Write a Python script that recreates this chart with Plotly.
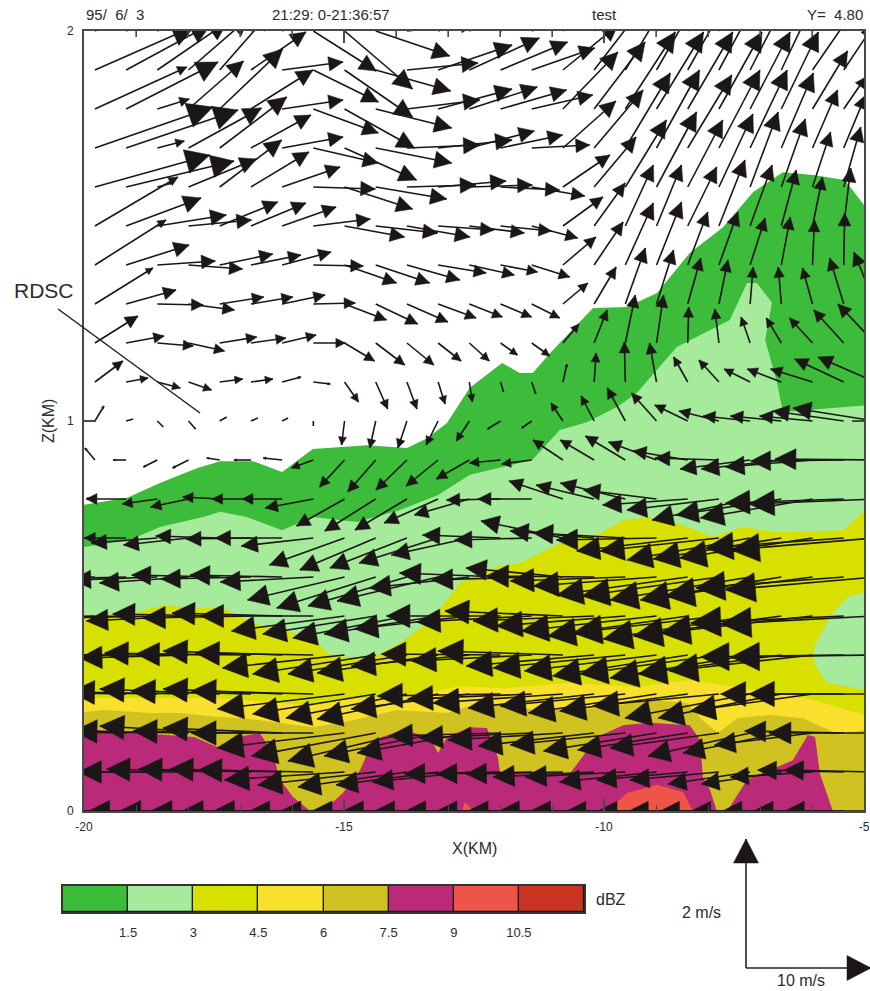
import math
import plotly.graph_objects as go

# ---- canvas helpers ----
W, H = 870, 991
PX_L, PX_R, PX_T, PX_B = 84, 864, 31, 811     # plot frame
def fx(p): return p / W
def fy(p): return 1 - p / H

# ---- axis content ----
X_RANGE = [-20, -5]
Z_RANGE = [0, 2]
X_TICKS = [-20, -15, -10, -5]
X_TICK_TEXT = ["-20", "-15", "-10", "-5"]
X_TOP_MINOR = [-19, -18, -17, -16, -14, -13, -12, -11, -9, -8, -7, -6]
X_TOP_MAJOR = [-15, -10]
Z_TICKS = [0, 1, 2]
DBZ_EDGES = [0, 1.5, 3, 4.5, 6, 7.5, 9, 10.5, 12]
DBZ_LABELS = ["1.5", "3", "4.5", "6", "7.5", "9", "10.5"]
DBZ_COLORS = ["#3dbb3a", "#a6ea9c", "#d8e000", "#f8e02c", "#d0c220", "#bb2a78", "#ee5548", "#c93420"]

# ---- reflectivity bands: upper edge of each band (X km, Z km) ----
B0_X = [-20, -19.17, -18.54, -17.83, -17.38, -16.75, -16.19, -15.6, -14.56, -13.79, -13.4, -13.02, -12.58, -11.96, -11.62, -11.37, -11.04, -10.21, -9.56, -8.98, -8.35, -7.71, -7.13, -6.56, -5.98, -5.37, -5]
B0_Z = [0.785, 0.803, 0.841, 0.879, 0.897, 0.897, 0.869, 0.928, 0.938, 0.931, 0.956, 0.995, 1.085, 1.149, 1.123, 1.123, 1.174, 1.29, 1.292, 1.328, 1.431, 1.497, 1.587, 1.638, 1.631, 1.618, 1.554]
B1_X = [-20, -19.12, -18.54, -17.71, -17.38, -16.87, -16.19, -15.6, -14.75, -13.92, -13.19, -12.58, -11.38, -10.85, -10.33, -9.75, -9.37, -8.6, -7.58, -7.25, -7.06, -6.77, -6.9, -6.67, -6.56, -5.85, -5]
B1_Z = [0.677, 0.695, 0.728, 0.754, 0.767, 0.754, 0.72, 0.754, 0.741, 0.772, 0.81, 0.862, 0.9, 0.977, 0.997, 1.036, 1.072, 1.19, 1.259, 1.354, 1.354, 1.303, 1.208, 1.097, 1.023, 1.03, 1.04]
B2_X = [-20, -19.17, -18.71, -18.46, -17.94, -17.31, -16.75, -16.23, -15.6, -15.33, -15.02, -14.44, -13.92, -13.4, -13.02, -12.77, -12.06, -11.62, -11.1, -10.6, -10.13, -9.63, -9.12, -8.6, -7.9, -7.33, -6.67, -5.4, -5]
B2_Z = [0.503, 0.503, 0.52, 0.528, 0.52, 0.52, 0.482, 0.464, 0.446, 0.405, 0.395, 0.395, 0.431, 0.482, 0.541, 0.585, 0.626, 0.636, 0.669, 0.703, 0.708, 0.746, 0.754, 0.738, 0.703, 0.728, 0.715, 0.72, 0.767]
HOLE_X = [-5, -5.3, -5.65, -5.96, -5.96, -5.73, -5]
HOLE_Z = [0.56, 0.55, 0.50, 0.42, 0.38, 0.33, 0.31]
B3_X = [-20, -19.31, -18.15, -17.5, -16.54, -15.6, -14.75, -13.9, -12.77, -11.94, -10.65, -9.37, -8.35, -7.44, -6.17, -5.52, -5]
B3_Z = [0.29, 0.29, 0.29, 0.29, 0.28, 0.27, 0.29, 0.29, 0.32, 0.315, 0.328, 0.318, 0.336, 0.318, 0.292, 0.267, 0.246]
B4_X = [-20, -19.62, -18.71, -18.13, -17.44, -16.92, -15.6, -14.83, -13.98, -13.02, -12.38, -11.29, -10.46, -9.69, -9.12, -8.4, -8.1, -7.81, -7.44, -6.81, -6.17, -5.79, -5.46, -5]
B4_Z = [0.254, 0.259, 0.251, 0.251, 0.241, 0.238, 0.215, 0.233, 0.259, 0.251, 0.277, 0.259, 0.259, 0.272, 0.285, 0.277, 0.233, 0.2, 0.238, 0.246, 0.238, 0.215, 0.195, 0.208]
B5_X = [-20, -18.9, -17.88, -17.44, -17.06, -16.62, -16.37, -16.23, -15.98, -15.65, -15.4, -15.02, -14.69, -14.44, -13.87, -13.35, -13.19, -13.02, -12.58, -12.25, -12.04, -12.0, -10.65, -10.13, -9.63, -9.12, -8.35, -8.15, -8.1, -7.96, -7.83, -7.63, -7.25, -6.37, -6.08, -5.94, -5.85, -5.6]
B5_Z = [0.21, 0.20, 0.19, 0.164, 0.19, 0.20, 0.149, 0.08, 0.036, 0.0, 0.0, 0.046, 0.105, 0.182, 0.208, 0.19, 0.149, 0.19, 0.215, 0.213, 0.138, 0.097, 0.097, 0.19, 0.22, 0.226, 0.22, 0.182, 0.087, 0.054, 0.0, 0.0, 0.08, 0.13, 0.195, 0.19, 0.097, 0.0]
B6_X = [-9.94, -9.56, -8.98, -8.48, -8.29]
B6_Z = [0.0, 0.046, 0.067, 0.049, 0.0]
B6B_X = [-12.73, -12.67, -12.52]
B6B_Z = [0.0, 0.023, 0.0]

# ---- wind field ----
X0, DX_KM, NCOL = -19.79, 0.6, 26
Z_ROWS = [2.0, 1.9, 1.8, 1.7, 1.6, 1.5, 1.4, 1.3, 1.2, 1.1, 1.0, 0.9, 0.8, 0.7, 0.6, 0.5, 0.4, 0.3, 0.2, 0.1, 0.0]
U_UNIT = 0.08     # m/s per count
W_UNIT = 0.0155   # m/s per count
U_READ = [
 [100,100,100,90,80,70,60,63,68,74,70,70,70,65,60,55,50,47,45,44,42,40,37,35,30,25],
 [100,85,70,60,50,55,61,65,68,75,71,74,70,67,63,55,50,47,45,44,42,40,37,40,30,25],
 [92,92,32,55,63,62,61,65,70,76,73,74,68,66,61,55,51,50,47,45,43,40,37,35,22,20],
 [118,112,27,73,67,60,61,65,72,76,73,74,65,62,58,53,49,45,43,44,41,37,32,25,22,15],
 [115,108,15,68,62,58,58,62,68,71,69,68,63,59,53,47,42,41,40,35,34,28,24,18,17,15],
 [83,75,69,63,58,55,54,57,60,62,63,56,55,51,46,40,31,28,25,29,26,22,15,10,7,10],
 [71,63,58,54,53,50,49,50,52,54,53,48,45,37,38,33,29,28,25,20,19,15,9,2,1,0],
 [58,50,46,46,44,42,43,42,42,42,41,38,33,31,28,25,22,20,17,13,9,3,-3,-10,-14,-21],
 [43,38,36,36,37,35,34,32,30,29,27,23,20,17,18,16,13,10,7,1,-4,-9,-15,-23,-30,-37],
 [28,22,23,23,23,22,19,17,14,12,10,7,3,3,4,4,2,-1,-7,-14,-20,-26,-34,-42,-49,-57],
 [9,7,6,7,7,7,6,0,-3,-6,-9,-12,-13,-13,-10,-12,-13,-18,-25,-33,-40,-47,-51,-53,-71,-82],
 [-10,-13,-14,-16,-13,-17,-19,-22,-25,-28,-31,-32,-33,-31,-30,-30,-34,-40,-48,-55,-64,-70,-80,-87,-93,-100],
 [-8,-40,-35,-38,-37,-39,-40,-48,-48,-51,-52,-54,-55,-54,-54,-54,-58,-65,-73,-85,-92,-98,-105,-112,-118,-126],
 [-15,-42,-66,-65,-64,-65,-67,-72,-75,-76,-77,-79,-78,-78,-77,-82,-84,-92,-100,-111,-119,-123,-128,-133,-138,-144],
 [-85,-85,-85,-89,-88,-90,-92,-93,-97,-99,-99,-101,-100,-101,-100,-97,-108,-115,-123,-131,-137,-140,-141,-147,-148,-149],
 [-100,-100,-100,-102,-107,-108,-110,-113,-113,-113,-114,-114,-115,-114,-115,-118,-121,-129,-135,-140,-146,-147,-148,-152,-153,-154],
 [-105,-105,-105,-109,-115,-115,-119,-118,-122,-123,-119,-121,-118,-119,-120,-125,-128,-132,-132,-135,-139,-140,-143,-143,-143,-144],
 [-118,-118,-118,-118,-120,-120,-119,-122,-127,-123,-121,-121,-118,-123,-124,-130,-126,-125,-128,-128,-126,-125,-123,-122,-123,-126],
 [-115,-115,-115,-115,-120,-118,-119,-122,-127,-124,-119,-114,-112,-111,-112,-115,-116,-115,-113,-110,-109,-102,-98,-98,-99,-106],
 [-110,-110,-110,-110,-113,-112,-112,-115,-120,-118,-109,-102,-97,-96,-95,-97,-101,-100,-97,-91,-89,-82,-80,-82,-86,-91],
 [-100,-100,-100,-100,-100,-100,-100,-100,-95,-95,-95,-95,-95,-95,-95,-95,-95,-95,-90,-90,-90,-90,-90,-90,-90,-90],
]
W_READ = [
 [45,45,48,50,55,45,30,-40,-58,-25,8,25,30,30,25,45,65,78,78,78,78,78,78,60,45,45],
 [44,46,48,52,57,38,8,-32,-47,-21,7,25,32,28,22,45,65,78,78,78,78,78,78,58,45,45],
 [42,47,10,48,60,39,9,-24,-39,-19,9,20,22,19,14,57,67,77,77,77,77,77,77,58,32,40],
 [41,38,7,40,51,33,11,-15,-32,-15,3,8,17,13,3,47,58,75,78,73,78,78,75,58,53,50],
 [32,26,4,28,47,35,20,-2,-22,-12,2,6,2,-3,-9,32,50,67,75,67,73,75,68,55,60,50],
 [49,28,11,6,24,23,19,7,-11,-7,-11,-4,-7,-5,-12,29,43,61,61,59,66,61,56,49,58,45],
 [45,20,4,-4,11,10,13,-1,-18,-18,-15,-8,-10,-7,-12,28,43,62,63,53,53,47,48,45,52,45],
 [36,14,-1,-6,7,7,9,1,-16,-20,-18,-14,-13,-13,-14,21,37,56,54,46,44,37,37,36,46,52],
 [27,7,-3,-8,6,5,8,0,-18,-22,-22,-18,-18,-12,-13,19,33,48,48,36,34,26,25,25,33,39],
 [21,4,-6,-8,3,3,5,-2,-20,-27,-27,-22,-20,-10,-12,18,29,40,39,25,22,13,13,13,23,25],
 [15,2,-6,-8,4,3,3,-5,-24,-27,-27,-24,-20,-8,-7,18,25,33,28,16,10,5,5,5,10,13],
 [12,0,-7,-8,2,0,2,-8,-27,-32,-30,-26,-19,-3,-4,20,20,24,18,9,2,-9,-9,-7,-1,1],
 [1,0,-5,-8,2,0,0,-9,-27,-32,-31,-24,-16,-1,0,18,14,16,9,-6,-11,-21,-16,-19,-4,-5],
 [0,0,-5,-7,2,-1,0,-8,-27,-32,-30,-25,-17,3,-2,17,7,5,-2,-13,-13,-22,-21,-20,-10,-12],
 [-2,-2,-3,-6,2,-2,2,-5,-23,-31,-29,-24,-11,4,-3,9,1,-4,-9,-18,-19,-23,-23,-19,-11,-13],
 [-2,-2,-2,-5,2,-2,3,0,-15,-18,-22,-18,-13,0,-6,5,-5,-10,-15,-20,-17,-23,-20,-17,-7,-8],
 [0,0,0,-3,2,1,4,2,-13,-19,-19,-18,-11,1,-6,4,-11,-13,-16,-21,-19,-23,-19,-16,-2,-2],
 [2,2,2,2,5,3,5,3,-15,-20,-24,-25,-15,-2,-5,-9,-14,-12,-19,-17,-12,-24,-24,-17,0,0],
 [2,2,2,2,7,2,5,0,-15,-23,-28,-23,-20,-3,-5,-7,-13,-12,-18,-17,-15,-23,-20,-12,2,0],
 [0,0,0,0,3,3,3,2,-8,-13,-15,-13,-10,-2,-2,-2,-5,-5,-10,-8,-8,-12,-12,-5,2,2],
 [0,0,0,0,0,0,0,0,0,0,0,0,0,0,0,0,0,0,0,0,0,0,0,0,0,0],
]
SMALL_HEADS = [(2, 0), (5, 0), (6, 0), (7, 0)]

REF_U = 10   # m/s
REF_W = 2    # m/s

# ---- scales of the wind plot ----
KM_PER_PX_X = (X_RANGE[1] - X_RANGE[0]) / (PX_R - PX_L)
KM_PER_PX_Z = (Z_RANGE[1] - Z_RANGE[0]) / (PX_B - PX_T)
PX_PER_MS_X = 1 / U_UNIT
PX_PER_MS_Z = 1 / W_UNIT

def head_size(L, small=False):
    h = 0.17 * L + 4 if L >= 20 else 0.15 * L
    return h * 0.45 if small else h

def arrows(rows):
    lx, ly, hx, hy = [], [], [], []
    for r, z in enumerate(rows):
        for c in range(NCOL):
            x = X0 + DX_KM * c
            u = U_READ[r][c] * U_UNIT
            w = W_READ[r][c] * W_UNIT
            px, py = u * PX_PER_MS_X, w * PX_PER_MS_Z
            L = math.hypot(px, py)
            if L == 0:
                continue
            tx = x + px * KM_PER_PX_X
            tz = z + py * KM_PER_PX_Z
            lx += [x, tx, None]
            ly += [z, tz, None]
            h = head_size(L, (r, c) in SMALL_HEADS)
            if h < 1.5:
                continue
            ex, ey = px / L, py / L
            hw = 0.5 * h
            bx, by = -ex * h, -ey * h
            hx += [tx, tx + (bx - ey * hw) * KM_PER_PX_X, tx + (bx + ey * hw) * KM_PER_PX_X, tx, None]
            hy += [tz, tz + (by + ex * hw) * KM_PER_PX_Z, tz + (by - ex * hw) * KM_PER_PX_Z, tz, None]
    return lx, ly, hx, hy

fig = go.Figure()

def band(xs, zs, color):
    fig.add_trace(go.Scatter(x=xs, y=zs, mode="lines", fill="toself", fillcolor=color,
                             line=dict(width=0, color=color), hoverinfo="skip", showlegend=False))

band(B0_X + [-5, -20], B0_Z + [0, 0], DBZ_COLORS[0])
band(B1_X + [-5, -20], B1_Z + [0, 0], DBZ_COLORS[1])
band(B2_X + [-5, -20], B2_Z + [0, 0], DBZ_COLORS[2])
band(HOLE_X, HOLE_Z, DBZ_COLORS[1])
band(B3_X + [-5, -20], B3_Z + [0, 0], DBZ_COLORS[3])
band(B4_X + [-5, -20], B4_Z + [0, 0], DBZ_COLORS[4])
band(B5_X + [-20], B5_Z + [0], DBZ_COLORS[5])
band(B6_X, B6_Z, DBZ_COLORS[6])
band(B6B_X, B6B_Z, DBZ_COLORS[6])

INK = "#1b1716"
AXC = "#4a4a4a"
lx, ly, hx, hy = arrows(Z_ROWS)
fig.add_trace(go.Scatter(x=lx, y=ly, mode="lines", line=dict(color=INK, width=1.6),
                         hoverinfo="skip", showlegend=False))
fig.add_trace(go.Scatter(x=hx, y=hy, mode="lines", fill="toself", fillcolor=INK,
                         line=dict(color=INK, width=0.5), hoverinfo="skip", showlegend=False))

# top-edge ticks
tx, ty = [], []
for v in X_TOP_MINOR:
    tx += [v, v, None]; ty += [2, 2 - 6 * KM_PER_PX_Z, None]
for v in X_TOP_MAJOR:
    tx += [v, v, None]; ty += [2, 2 - 12 * KM_PER_PX_Z, None]
fig.add_trace(go.Scatter(x=tx, y=ty, mode="lines", line=dict(color=AXC, width=1.3), hoverinfo="skip", showlegend=False))

# dBZ colour bar
centers = [(a + b) / 2 for a, b in zip(DBZ_EDGES[:-1], DBZ_EDGES[1:])]
fig.add_trace(go.Bar(x=centers, y=[1] * len(centers), width=1.5, xaxis="x2", yaxis="y2",
                     marker=dict(color=DBZ_COLORS, line=dict(color="#1a1a1a", width=1.2)),
                     hoverinfo="skip", showlegend=False))

# scale arrows
fig.add_trace(go.Scatter(x=[0, REF_U, None, 0, 0], y=[0, 0, None, 0, REF_W], mode="lines", xaxis="x3", yaxis="y3",
                         line=dict(color="#222", width=1.6), hoverinfo="skip", showlegend=False))
hlen_x, hlen_z, hw_x, hw_z = 24 * U_UNIT, 24 * W_UNIT, 12.5 * U_UNIT, 12.5 * W_UNIT
fig.add_trace(go.Scatter(
    x=[REF_U, REF_U - hlen_x, REF_U - hlen_x, REF_U, None, 0, -hw_x, hw_x, 0],
    y=[0, hw_z, -hw_z, 0, None, REF_W, REF_W - hlen_z, REF_W - hlen_z, REF_W],
    mode="lines", fill="toself", fillcolor=INK, line=dict(color=INK, width=0.5), xaxis="x3", yaxis="y3",
    hoverinfo="skip", showlegend=False))

FONT = "Liberation Sans, Arial, sans-serif"
TXT = "#2b2b2b"

def note(x, y, text, size=13, xanchor="center", **kw):
    return dict(text=text, x=fx(x), y=fy(y), xref="paper", yref="paper", showarrow=False,
                xanchor=xanchor, yanchor="middle",
                font=dict(size=size, color=TXT, family=FONT), **kw)

annotations = [
    note(84, 15, "95/\u00a0\u00a06/\u00a0\u00a03", size=15, xanchor="left"),
    note(331, 15, "21:29: 0-21:36:57", size=15),
    note(604, 15, "test", size=15),
    note(865, 15, "Y=\u00a0\u00a04.80", size=15, xanchor="right"),
    note(48, 421, "Z(KM)", size=16, textangle=-90),
    note(474, 848, "X(KM)", size=16),
    note(12, 291, "RDSC", size=21, xanchor="left"),
    note(611, 899, "dBZ", size=16),
    note(701, 912, "2 m/s", size=16),
    note(801, 980, "10 m/s", size=16),
]

shapes = [dict(type="line", xref="paper", yref="paper", x0=fx(58), y0=fy(309), x1=fx(200), y1=fy(413),
               line=dict(color="#222", width=1.5), layer="above")]

fig.update_layout(
    width=W, height=H, margin=dict(l=0, r=0, t=0, b=0, pad=0, autoexpand=False),
    paper_bgcolor="white", plot_bgcolor="white", showlegend=False, bargap=0,
    font=dict(family=FONT, color=TXT), annotations=annotations, shapes=shapes,
    xaxis=dict(domain=[fx(PX_L), fx(PX_R)], range=X_RANGE, tickmode="array", tickvals=X_TICKS, ticktext=X_TICK_TEXT,
               ticks="inside", ticklen=12, tickwidth=1.5, tickcolor=AXC, showline=True, linecolor=AXC, linewidth=2,
               mirror="ticks", showgrid=False, zeroline=False, tickfont=dict(size=12, color=TXT), ticklabelstandoff=4,
               minor=dict(dtick=1, tick0=0, ticks="inside", ticklen=6, tickcolor=AXC, tickwidth=1.2, showgrid=False)),
    yaxis=dict(domain=[fy(PX_B), fy(PX_T)], range=Z_RANGE, tickmode="array", tickvals=Z_TICKS,
               ticks="inside", ticklen=12, tickwidth=1.5, tickcolor=AXC, showline=True, linecolor=AXC, linewidth=2,
               mirror="ticks", showgrid=False, zeroline=False, tickfont=dict(size=12, color=TXT), ticklabelstandoff=6),
    xaxis2=dict(domain=[fx(63), fx(584)], range=[DBZ_EDGES[0], DBZ_EDGES[-1]], anchor="y2", tickmode="array",
                tickvals=DBZ_EDGES[1:-1], ticktext=DBZ_LABELS, ticks="", showline=True, linecolor="#333", linewidth=1.5,
                mirror=True, showgrid=False, zeroline=False, tickfont=dict(size=13, color=TXT), ticklabelstandoff=8),
    yaxis2=dict(domain=[fy(912), fy(886)], range=[0, 1], anchor="x2", showticklabels=False, ticks="", showline=True,
                linecolor="#333", linewidth=1.5, mirror=True, showgrid=False, zeroline=False),
    # scale-arrow axes: 12.5 px per m/s across, 64.5 px per m/s up; origin sits at px (746, 968)
    xaxis3=dict(domain=[fx(720), fx(870)], range=[-(746 - 720) * U_UNIT, (870 - 746) * U_UNIT], anchor="y3", visible=False),
    yaxis3=dict(domain=[fy(991), fy(830)], range=[-(991 - 968) * W_UNIT, (968 - 830) * W_UNIT], anchor="x3", visible=False),
)

fig.write_html("out.html", config={"displayModeBar": False},
               post_script="document.body.style.margin='0';document.documentElement.style.overflow='hidden';")
